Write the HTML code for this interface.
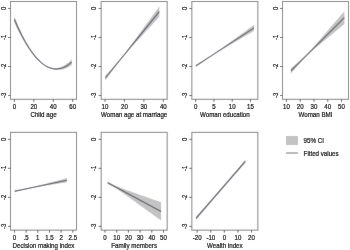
<!DOCTYPE html>
<html><head><meta charset="utf-8"><style>
html,body{margin:0;padding:0;background:#fff;}
svg{display:block;will-change:transform;font-family:"Liberation Sans",sans-serif;}
</style></head><body>
<svg width="350" height="250" viewBox="0 0 350 250">
<defs><filter id="bl" x="0" y="0" width="100%" height="100%" filterUnits="userSpaceOnUse" primitiveUnits="userSpaceOnUse"><feConvolveMatrix order="3" kernelMatrix="0.00524 0.06192 0.00524 0.06192 0.73137 0.06192 0.00524 0.06192 0.00524" edgeMode="duplicate" preserveAlpha="true"/></filter><filter id="bl2" x="0" y="0" width="100%" height="100%" filterUnits="userSpaceOnUse" primitiveUnits="userSpaceOnUse"><feConvolveMatrix order="3" kernelMatrix="0.00027 0.01580 0.00027 0.01580 0.93575 0.01580 0.00027 0.01580 0.00027" edgeMode="none" preserveAlpha="false"/></filter></defs>
<rect width="350" height="250" fill="#fff"/>
<g filter="url(#bl)">
<rect width="350" height="250" fill="#fff"/>
<rect x="10.50" y="1.50" width="66" height="97.8" fill="none" stroke="#808080" stroke-width="1.0"/>
<polygon points="14.30,16.04 15.74,19.69 17.18,23.20 18.61,26.58 20.05,29.82 21.49,32.94 22.93,35.92 24.36,38.77 25.80,41.48 27.24,44.07 28.68,46.52 30.11,48.84 31.55,51.02 32.99,53.08 34.42,55.00 35.86,56.79 37.30,58.44 38.74,59.97 40.17,61.36 41.61,62.62 43.05,63.74 44.49,64.74 45.92,65.61 47.36,66.35 48.80,66.97 50.24,67.45 51.67,67.81 53.11,68.04 54.55,68.13 55.99,68.11 57.42,67.95 58.86,67.66 60.30,67.25 61.74,66.71 63.17,66.04 64.61,65.24 66.05,64.31 67.49,63.25 68.92,62.07 70.36,60.76 71.80,59.32 71.80,64.99 70.36,65.96 68.92,66.83 67.49,67.59 66.05,68.25 64.61,68.80 63.17,69.25 61.74,69.59 60.30,69.82 58.86,69.96 57.42,69.98 55.99,69.90 54.55,69.72 53.11,69.43 51.67,69.03 50.24,68.53 48.80,67.92 47.36,67.21 45.92,66.40 44.49,65.48 43.05,64.45 41.61,63.32 40.17,62.08 38.74,60.75 37.30,59.31 35.86,57.77 34.42,56.13 32.99,54.39 31.55,52.55 30.11,50.61 28.68,48.57 27.24,46.42 25.80,44.18 24.36,41.83 22.93,39.38 21.49,36.83 20.05,34.18 18.61,31.43 17.18,28.58 15.74,25.63 14.30,22.57" fill="#c3c3c3"/><path d="M14.3 19.31 Q43.05 87.46 71.8 62.15" fill="none" stroke="#585b6c" stroke-width="1.1"/>
<line x1="8.00" y1="8.50" x2="10.50" y2="8.50" stroke="#5a5a5a" stroke-width="1"/>

<line x1="8.00" y1="37.50" x2="10.50" y2="37.50" stroke="#5a5a5a" stroke-width="1"/>

<line x1="8.00" y1="66.50" x2="10.50" y2="66.50" stroke="#5a5a5a" stroke-width="1"/>

<line x1="8.00" y1="95.50" x2="10.50" y2="95.50" stroke="#5a5a5a" stroke-width="1"/>

<line x1="14.45" y1="99.30" x2="14.45" y2="101.80" stroke="#5a5a5a" stroke-width="1"/>

<line x1="33.85" y1="99.30" x2="33.85" y2="101.80" stroke="#5a5a5a" stroke-width="1"/>

<line x1="53.25" y1="99.30" x2="53.25" y2="101.80" stroke="#5a5a5a" stroke-width="1"/>

<line x1="72.65" y1="99.30" x2="72.65" y2="101.80" stroke="#5a5a5a" stroke-width="1"/>


<rect x="101.17" y="1.50" width="66" height="97.8" fill="none" stroke="#808080" stroke-width="1.0"/>
<polygon points="105.30,75.63 106.65,74.15 108.00,72.68 109.35,71.20 110.70,69.73 112.05,68.25 113.40,66.77 114.75,65.29 116.10,63.80 117.45,62.31 118.80,60.80 120.15,59.26 121.50,57.67 122.85,56.00 124.20,54.26 125.55,52.46 126.90,50.65 128.25,48.82 129.60,46.98 130.95,45.14 132.30,43.30 133.65,41.46 135.00,39.62 136.35,37.77 137.70,35.93 139.05,34.08 140.40,32.23 141.75,30.39 143.10,28.54 144.45,26.69 145.80,24.84 147.15,23.00 148.50,21.15 149.85,19.30 151.20,17.45 152.55,15.60 153.90,13.76 155.25,11.91 156.60,10.06 157.95,8.21 159.30,6.36 159.30,16.84 157.95,18.31 156.60,19.78 155.25,21.25 153.90,22.72 152.55,24.20 151.20,25.67 149.85,27.14 148.50,28.61 147.15,30.08 145.80,31.56 144.45,33.03 143.10,34.50 141.75,35.97 140.40,37.45 139.05,38.92 137.70,40.39 136.35,41.87 135.00,43.34 133.65,44.82 132.30,46.30 130.95,47.78 129.60,49.26 128.25,50.74 126.90,52.23 125.55,53.74 124.20,55.26 122.85,56.84 121.50,58.49 120.15,60.22 118.80,62.00 117.45,63.81 116.10,65.64 114.75,67.47 113.40,69.31 112.05,71.15 110.70,72.99 109.35,74.84 108.00,76.68 106.65,78.53 105.30,80.37" fill="#c3c3c3"/><line x1="105.3" y1="78.0" x2="159.3" y2="11.6" stroke="#585b6c" stroke-width="1.1"/>
<line x1="98.67" y1="8.50" x2="101.17" y2="8.50" stroke="#5a5a5a" stroke-width="1"/>

<line x1="98.67" y1="37.50" x2="101.17" y2="37.50" stroke="#5a5a5a" stroke-width="1"/>

<line x1="98.67" y1="66.50" x2="101.17" y2="66.50" stroke="#5a5a5a" stroke-width="1"/>

<line x1="98.67" y1="95.50" x2="101.17" y2="95.50" stroke="#5a5a5a" stroke-width="1"/>

<line x1="105.00" y1="99.30" x2="105.00" y2="101.80" stroke="#5a5a5a" stroke-width="1"/>

<line x1="124.43" y1="99.30" x2="124.43" y2="101.80" stroke="#5a5a5a" stroke-width="1"/>

<line x1="143.87" y1="99.30" x2="143.87" y2="101.80" stroke="#5a5a5a" stroke-width="1"/>

<line x1="163.30" y1="99.30" x2="163.30" y2="101.80" stroke="#5a5a5a" stroke-width="1"/>


<rect x="191.84" y="1.50" width="66" height="97.8" fill="none" stroke="#808080" stroke-width="1.0"/>
<polygon points="195.90,64.70 197.35,63.85 198.81,63.00 200.26,62.15 201.71,61.30 203.16,60.45 204.62,59.59 206.07,58.73 207.52,57.86 208.97,56.98 210.43,56.08 211.88,55.15 213.33,54.19 214.78,53.19 216.24,52.17 217.69,51.14 219.14,50.10 220.59,49.06 222.05,48.02 223.50,46.97 224.95,45.92 226.40,44.87 227.85,43.82 229.31,42.77 230.76,41.72 232.21,40.66 233.67,39.61 235.12,38.56 236.57,37.51 238.02,36.45 239.47,35.40 240.93,34.35 242.38,33.29 243.83,32.24 245.28,31.18 246.74,30.13 248.19,29.08 249.64,28.02 251.09,26.97 252.55,25.92 254.00,24.86 254.00,30.94 252.55,31.78 251.09,32.63 249.64,33.48 248.19,34.32 246.74,35.17 245.28,36.02 243.83,36.86 242.38,37.71 240.93,38.55 239.47,39.40 238.02,40.25 236.57,41.09 235.12,41.94 233.67,42.79 232.21,43.64 230.76,44.48 229.31,45.33 227.85,46.18 226.40,47.03 224.95,47.88 223.50,48.73 222.05,49.58 220.59,50.44 219.14,51.30 217.69,52.16 216.24,53.03 214.78,53.91 213.33,54.81 211.88,55.75 210.43,56.72 208.97,57.72 207.52,58.74 206.07,59.77 204.62,60.81 203.16,61.85 201.71,62.90 200.26,63.95 198.81,65.00 197.35,66.05 195.90,67.10" fill="#c3c3c3"/><line x1="195.9" y1="65.9" x2="254.0" y2="27.9" stroke="#585b6c" stroke-width="1.1"/>
<line x1="189.34" y1="8.50" x2="191.84" y2="8.50" stroke="#5a5a5a" stroke-width="1"/>

<line x1="189.34" y1="37.50" x2="191.84" y2="37.50" stroke="#5a5a5a" stroke-width="1"/>

<line x1="189.34" y1="66.50" x2="191.84" y2="66.50" stroke="#5a5a5a" stroke-width="1"/>

<line x1="189.34" y1="95.50" x2="191.84" y2="95.50" stroke="#5a5a5a" stroke-width="1"/>

<line x1="195.65" y1="99.30" x2="195.65" y2="101.80" stroke="#5a5a5a" stroke-width="1"/>

<line x1="213.93" y1="99.30" x2="213.93" y2="101.80" stroke="#5a5a5a" stroke-width="1"/>

<line x1="232.22" y1="99.30" x2="232.22" y2="101.80" stroke="#5a5a5a" stroke-width="1"/>

<line x1="250.50" y1="99.30" x2="250.50" y2="101.80" stroke="#5a5a5a" stroke-width="1"/>


<rect x="282.51" y="1.50" width="66" height="97.8" fill="none" stroke="#808080" stroke-width="1.0"/>
<polygon points="290.90,68.20 292.24,67.09 293.57,65.98 294.91,64.87 296.25,63.76 297.59,62.64 298.92,61.52 300.26,60.40 301.60,59.27 302.94,58.12 304.27,56.95 305.61,55.72 306.95,54.40 308.29,52.99 309.62,51.52 310.96,50.00 312.30,48.47 313.64,46.94 314.97,45.39 316.31,43.84 317.65,42.29 318.99,40.74 320.32,39.18 321.66,37.63 323.00,36.07 324.34,34.51 325.67,32.96 327.01,31.40 328.35,29.84 329.69,28.28 331.02,26.73 332.36,25.17 333.70,23.61 335.04,22.05 336.38,20.49 337.71,18.93 339.05,17.37 340.39,15.81 341.72,14.26 343.06,12.70 344.40,11.14 344.40,24.06 343.06,25.17 341.72,26.27 340.39,27.38 339.05,28.49 337.71,29.59 336.38,30.70 335.04,31.80 333.70,32.91 332.36,34.02 331.02,35.12 329.69,36.23 328.35,37.34 327.01,38.45 325.67,39.55 324.34,40.66 323.00,41.77 321.66,42.88 320.32,43.99 318.99,45.10 317.65,46.21 316.31,47.32 314.97,48.44 313.64,49.56 312.30,50.69 310.96,51.82 309.62,52.97 308.29,54.16 306.95,55.42 305.61,56.76 304.27,58.20 302.94,59.69 301.60,61.21 300.26,62.74 298.92,64.29 297.59,65.83 296.25,67.38 294.91,68.93 293.57,70.49 292.24,72.04 290.90,73.60" fill="#c3c3c3"/><line x1="290.9" y1="70.9" x2="344.4" y2="17.6" stroke="#585b6c" stroke-width="1.1"/>
<line x1="280.01" y1="8.50" x2="282.51" y2="8.50" stroke="#5a5a5a" stroke-width="1"/>

<line x1="280.01" y1="37.50" x2="282.51" y2="37.50" stroke="#5a5a5a" stroke-width="1"/>

<line x1="280.01" y1="66.50" x2="282.51" y2="66.50" stroke="#5a5a5a" stroke-width="1"/>

<line x1="280.01" y1="95.50" x2="282.51" y2="95.50" stroke="#5a5a5a" stroke-width="1"/>

<line x1="286.50" y1="99.30" x2="286.50" y2="101.80" stroke="#5a5a5a" stroke-width="1"/>

<line x1="300.25" y1="99.30" x2="300.25" y2="101.80" stroke="#5a5a5a" stroke-width="1"/>

<line x1="314.00" y1="99.30" x2="314.00" y2="101.80" stroke="#5a5a5a" stroke-width="1"/>

<line x1="327.75" y1="99.30" x2="327.75" y2="101.80" stroke="#5a5a5a" stroke-width="1"/>

<line x1="341.50" y1="99.30" x2="341.50" y2="101.80" stroke="#5a5a5a" stroke-width="1"/>


<rect x="10.50" y="132.35" width="66" height="97.8" fill="none" stroke="#808080" stroke-width="1.0"/>
<polygon points="14.70,190.27 16.00,190.07 17.31,189.86 18.61,189.65 19.92,189.44 21.23,189.22 22.53,189.00 23.84,188.78 25.14,188.56 26.45,188.32 27.75,188.08 29.05,187.82 30.36,187.55 31.66,187.26 32.97,186.96 34.27,186.65 35.58,186.33 36.89,186.00 38.19,185.67 39.50,185.34 40.80,185.00 42.11,184.66 43.41,184.32 44.72,183.98 46.02,183.64 47.33,183.29 48.63,182.95 49.94,182.61 51.24,182.26 52.55,181.91 53.85,181.57 55.16,181.22 56.46,180.88 57.77,180.53 59.07,180.18 60.38,179.84 61.68,179.49 62.98,179.14 64.29,178.80 65.59,178.45 66.90,178.10 66.90,182.30 65.59,182.50 64.29,182.70 62.98,182.91 61.68,183.11 60.38,183.31 59.07,183.52 57.77,183.72 56.46,183.92 55.16,184.13 53.85,184.33 52.55,184.54 51.24,184.74 49.94,184.94 48.63,185.15 47.33,185.36 46.02,185.56 44.72,185.77 43.41,185.98 42.11,186.19 40.80,186.40 39.50,186.61 38.19,186.83 36.89,187.05 35.58,187.27 34.27,187.50 32.97,187.74 31.66,187.99 30.36,188.25 29.05,188.53 27.75,188.82 26.45,189.13 25.14,189.44 23.84,189.77 22.53,190.10 21.23,190.43 19.92,190.76 18.61,191.10 17.31,191.44 16.00,191.78 14.70,192.13" fill="#c3c3c3"/><line x1="14.7" y1="191.2" x2="66.9" y2="180.2" stroke="#585b6c" stroke-width="1.1"/>
<line x1="8.00" y1="139.35" x2="10.50" y2="139.35" stroke="#5a5a5a" stroke-width="1"/>

<line x1="8.00" y1="168.35" x2="10.50" y2="168.35" stroke="#5a5a5a" stroke-width="1"/>

<line x1="8.00" y1="197.35" x2="10.50" y2="197.35" stroke="#5a5a5a" stroke-width="1"/>

<line x1="8.00" y1="226.35" x2="10.50" y2="226.35" stroke="#5a5a5a" stroke-width="1"/>

<line x1="14.50" y1="230.15" x2="14.50" y2="232.65" stroke="#5a5a5a" stroke-width="1"/>

<line x1="26.16" y1="230.15" x2="26.16" y2="232.65" stroke="#5a5a5a" stroke-width="1"/>

<line x1="37.82" y1="230.15" x2="37.82" y2="232.65" stroke="#5a5a5a" stroke-width="1"/>

<line x1="49.48" y1="230.15" x2="49.48" y2="232.65" stroke="#5a5a5a" stroke-width="1"/>

<line x1="61.14" y1="230.15" x2="61.14" y2="232.65" stroke="#5a5a5a" stroke-width="1"/>

<line x1="72.80" y1="230.15" x2="72.80" y2="232.65" stroke="#5a5a5a" stroke-width="1"/>


<rect x="101.17" y="132.35" width="66" height="97.8" fill="none" stroke="#808080" stroke-width="1.0"/>
<polygon points="107.70,181.42 109.03,182.28 110.37,183.09 111.70,183.85 113.04,184.55 114.38,185.20 115.71,185.79 117.05,186.35 118.38,186.89 119.72,187.41 121.05,187.92 122.39,188.43 123.72,188.92 125.06,189.41 126.39,189.90 127.72,190.39 129.06,190.87 130.40,191.35 131.73,191.83 133.06,192.31 134.40,192.79 135.74,193.26 137.07,193.74 138.41,194.22 139.74,194.69 141.07,195.17 142.41,195.64 143.75,196.12 145.08,196.59 146.41,197.06 147.75,197.54 149.08,198.01 150.42,198.48 151.75,198.96 153.09,199.43 154.43,199.90 155.76,200.37 157.09,200.85 158.43,201.32 159.76,201.79 161.10,202.26 161.10,220.54 159.76,219.58 158.43,218.61 157.09,217.65 155.76,216.69 154.43,215.72 153.09,214.76 151.75,213.80 150.42,212.84 149.08,211.88 147.75,210.91 146.41,209.95 145.08,208.99 143.75,208.03 142.41,207.07 141.07,206.11 139.74,205.15 138.41,204.19 137.07,203.23 135.74,202.27 134.40,201.31 133.06,200.36 131.73,199.40 130.40,198.44 129.06,197.49 127.72,196.54 126.39,195.59 125.06,194.64 123.72,193.70 122.39,192.76 121.05,191.83 119.72,190.90 118.38,189.99 117.05,189.09 115.71,188.22 114.38,187.38 113.04,186.59 111.70,185.85 110.37,185.18 109.03,184.56 107.70,183.98" fill="#c3c3c3"/><line x1="107.7" y1="182.7" x2="161.1" y2="211.4" stroke="#585b6c" stroke-width="1.1"/>
<line x1="98.67" y1="139.35" x2="101.17" y2="139.35" stroke="#5a5a5a" stroke-width="1"/>

<line x1="98.67" y1="168.35" x2="101.17" y2="168.35" stroke="#5a5a5a" stroke-width="1"/>

<line x1="98.67" y1="197.35" x2="101.17" y2="197.35" stroke="#5a5a5a" stroke-width="1"/>

<line x1="98.67" y1="226.35" x2="101.17" y2="226.35" stroke="#5a5a5a" stroke-width="1"/>

<line x1="105.00" y1="230.15" x2="105.00" y2="232.65" stroke="#5a5a5a" stroke-width="1"/>

<line x1="116.70" y1="230.15" x2="116.70" y2="232.65" stroke="#5a5a5a" stroke-width="1"/>

<line x1="128.40" y1="230.15" x2="128.40" y2="232.65" stroke="#5a5a5a" stroke-width="1"/>

<line x1="140.10" y1="230.15" x2="140.10" y2="232.65" stroke="#5a5a5a" stroke-width="1"/>

<line x1="151.80" y1="230.15" x2="151.80" y2="232.65" stroke="#5a5a5a" stroke-width="1"/>

<line x1="163.50" y1="230.15" x2="163.50" y2="232.65" stroke="#5a5a5a" stroke-width="1"/>


<rect x="191.84" y="132.35" width="66" height="97.8" fill="none" stroke="#808080" stroke-width="1.0"/>
<polygon points="196.00,216.74 197.23,215.35 198.47,213.95 199.70,212.56 200.93,211.17 202.16,209.77 203.40,208.37 204.63,206.98 205.86,205.58 207.09,204.17 208.32,202.77 209.56,201.37 210.79,199.96 212.02,198.55 213.25,197.15 214.49,195.73 215.72,194.32 216.95,192.91 218.19,191.49 219.42,190.07 220.65,188.65 221.88,187.23 223.12,185.80 224.35,184.38 225.58,182.95 226.81,181.52 228.05,180.08 229.28,178.65 230.51,177.21 231.74,175.77 232.98,174.33 234.21,172.89 235.44,171.45 236.67,170.00 237.91,168.56 239.14,167.11 240.37,165.66 241.60,164.21 242.84,162.76 244.07,161.31 245.30,159.86 245.30,162.94 244.07,164.34 242.84,165.73 241.60,167.12 240.37,168.52 239.14,169.91 237.91,171.31 236.67,172.71 235.44,174.11 234.21,175.51 232.98,176.92 231.74,178.32 230.51,179.73 229.28,181.14 228.05,182.55 226.81,183.96 225.58,185.37 224.35,186.79 223.12,188.21 221.88,189.63 220.65,191.05 219.42,192.47 218.19,193.90 216.95,195.33 215.72,196.76 214.49,198.19 213.25,199.62 212.02,201.06 210.79,202.50 209.56,203.94 208.32,205.38 207.09,206.82 205.86,208.26 204.63,209.71 203.40,211.16 202.16,212.60 200.93,214.05 199.70,215.50 198.47,216.96 197.23,218.41 196.00,219.86" fill="#c3c3c3"/><line x1="196.0" y1="218.3" x2="245.3" y2="161.4" stroke="#585b6c" stroke-width="1.1"/>
<line x1="189.34" y1="139.35" x2="191.84" y2="139.35" stroke="#5a5a5a" stroke-width="1"/>

<line x1="189.34" y1="168.35" x2="191.84" y2="168.35" stroke="#5a5a5a" stroke-width="1"/>

<line x1="189.34" y1="197.35" x2="191.84" y2="197.35" stroke="#5a5a5a" stroke-width="1"/>

<line x1="189.34" y1="226.35" x2="191.84" y2="226.35" stroke="#5a5a5a" stroke-width="1"/>

<line x1="197.20" y1="230.15" x2="197.20" y2="232.65" stroke="#5a5a5a" stroke-width="1"/>

<line x1="210.77" y1="230.15" x2="210.77" y2="232.65" stroke="#5a5a5a" stroke-width="1"/>

<line x1="224.35" y1="230.15" x2="224.35" y2="232.65" stroke="#5a5a5a" stroke-width="1"/>

<line x1="237.93" y1="230.15" x2="237.93" y2="232.65" stroke="#5a5a5a" stroke-width="1"/>

<line x1="251.50" y1="230.15" x2="251.50" y2="232.65" stroke="#5a5a5a" stroke-width="1"/>


<rect x="286" y="136" width="12" height="9" fill="#c3c3c3"/><line x1="286" y1="153" x2="298" y2="153" stroke="#8c90a4" stroke-width="1.3"/>
</g>
<g filter="url(#bl2)">
<text transform="translate(5.60 8.40) rotate(-90) scale(0.85 0.93)" text-anchor="middle" font-size="7.0" fill="#111" stroke="#111" stroke-width="0.2">0</text>
<text transform="translate(5.60 37.40) rotate(-90) scale(0.85 0.93)" text-anchor="middle" font-size="7.0" fill="#111" stroke="#111" stroke-width="0.2">-1</text>
<text transform="translate(5.60 66.40) rotate(-90) scale(0.85 0.93)" text-anchor="middle" font-size="7.0" fill="#111" stroke="#111" stroke-width="0.2">-2</text>
<text transform="translate(5.60 95.40) rotate(-90) scale(0.85 0.93)" text-anchor="middle" font-size="7.0" fill="#111" stroke="#111" stroke-width="0.2">-3</text>
<text transform="translate(14.45 109.20) scale(0.87 1.0)" text-anchor="middle" font-size="7.0" fill="#111" stroke="#111" stroke-width="0.2">0</text>
<text transform="translate(33.85 109.20) scale(0.87 1.0)" text-anchor="middle" font-size="7.0" fill="#111" stroke="#111" stroke-width="0.2">20</text>
<text transform="translate(53.25 109.20) scale(0.87 1.0)" text-anchor="middle" font-size="7.0" fill="#111" stroke="#111" stroke-width="0.2">40</text>
<text transform="translate(72.65 109.20) scale(0.87 1.0)" text-anchor="middle" font-size="7.0" fill="#111" stroke="#111" stroke-width="0.2">60</text>
<text transform="translate(43.50 116.70) scale(0.885 1.0)" text-anchor="middle" font-size="7.0" fill="#111" stroke="#111" stroke-width="0.2">Child age</text>
<text transform="translate(96.27 8.40) rotate(-90) scale(0.85 0.93)" text-anchor="middle" font-size="7.0" fill="#111" stroke="#111" stroke-width="0.2">0</text>
<text transform="translate(96.27 37.40) rotate(-90) scale(0.85 0.93)" text-anchor="middle" font-size="7.0" fill="#111" stroke="#111" stroke-width="0.2">-1</text>
<text transform="translate(96.27 66.40) rotate(-90) scale(0.85 0.93)" text-anchor="middle" font-size="7.0" fill="#111" stroke="#111" stroke-width="0.2">-2</text>
<text transform="translate(96.27 95.40) rotate(-90) scale(0.85 0.93)" text-anchor="middle" font-size="7.0" fill="#111" stroke="#111" stroke-width="0.2">-3</text>
<text transform="translate(105.00 109.20) scale(0.87 1.0)" text-anchor="middle" font-size="7.0" fill="#111" stroke="#111" stroke-width="0.2">10</text>
<text transform="translate(124.43 109.20) scale(0.87 1.0)" text-anchor="middle" font-size="7.0" fill="#111" stroke="#111" stroke-width="0.2">20</text>
<text transform="translate(143.87 109.20) scale(0.87 1.0)" text-anchor="middle" font-size="7.0" fill="#111" stroke="#111" stroke-width="0.2">30</text>
<text transform="translate(163.30 109.20) scale(0.87 1.0)" text-anchor="middle" font-size="7.0" fill="#111" stroke="#111" stroke-width="0.2">40</text>
<text transform="translate(134.17 116.70) scale(0.885 1.0)" text-anchor="middle" font-size="7.0" fill="#111" stroke="#111" stroke-width="0.2">Woman age at marriage</text>
<text transform="translate(186.94 8.40) rotate(-90) scale(0.85 0.93)" text-anchor="middle" font-size="7.0" fill="#111" stroke="#111" stroke-width="0.2">0</text>
<text transform="translate(186.94 37.40) rotate(-90) scale(0.85 0.93)" text-anchor="middle" font-size="7.0" fill="#111" stroke="#111" stroke-width="0.2">-1</text>
<text transform="translate(186.94 66.40) rotate(-90) scale(0.85 0.93)" text-anchor="middle" font-size="7.0" fill="#111" stroke="#111" stroke-width="0.2">-2</text>
<text transform="translate(186.94 95.40) rotate(-90) scale(0.85 0.93)" text-anchor="middle" font-size="7.0" fill="#111" stroke="#111" stroke-width="0.2">-3</text>
<text transform="translate(195.65 109.20) scale(0.87 1.0)" text-anchor="middle" font-size="7.0" fill="#111" stroke="#111" stroke-width="0.2">0</text>
<text transform="translate(213.93 109.20) scale(0.87 1.0)" text-anchor="middle" font-size="7.0" fill="#111" stroke="#111" stroke-width="0.2">5</text>
<text transform="translate(232.22 109.20) scale(0.87 1.0)" text-anchor="middle" font-size="7.0" fill="#111" stroke="#111" stroke-width="0.2">10</text>
<text transform="translate(250.50 109.20) scale(0.87 1.0)" text-anchor="middle" font-size="7.0" fill="#111" stroke="#111" stroke-width="0.2">15</text>
<text transform="translate(224.84 116.70) scale(0.885 1.0)" text-anchor="middle" font-size="7.0" fill="#111" stroke="#111" stroke-width="0.2">Woman education</text>
<text transform="translate(277.61 8.40) rotate(-90) scale(0.85 0.93)" text-anchor="middle" font-size="7.0" fill="#111" stroke="#111" stroke-width="0.2">0</text>
<text transform="translate(277.61 37.40) rotate(-90) scale(0.85 0.93)" text-anchor="middle" font-size="7.0" fill="#111" stroke="#111" stroke-width="0.2">-1</text>
<text transform="translate(277.61 66.40) rotate(-90) scale(0.85 0.93)" text-anchor="middle" font-size="7.0" fill="#111" stroke="#111" stroke-width="0.2">-2</text>
<text transform="translate(277.61 95.40) rotate(-90) scale(0.85 0.93)" text-anchor="middle" font-size="7.0" fill="#111" stroke="#111" stroke-width="0.2">-3</text>
<text transform="translate(286.50 109.20) scale(0.87 1.0)" text-anchor="middle" font-size="7.0" fill="#111" stroke="#111" stroke-width="0.2">10</text>
<text transform="translate(300.25 109.20) scale(0.87 1.0)" text-anchor="middle" font-size="7.0" fill="#111" stroke="#111" stroke-width="0.2">20</text>
<text transform="translate(314.00 109.20) scale(0.87 1.0)" text-anchor="middle" font-size="7.0" fill="#111" stroke="#111" stroke-width="0.2">30</text>
<text transform="translate(327.75 109.20) scale(0.87 1.0)" text-anchor="middle" font-size="7.0" fill="#111" stroke="#111" stroke-width="0.2">40</text>
<text transform="translate(341.50 109.20) scale(0.87 1.0)" text-anchor="middle" font-size="7.0" fill="#111" stroke="#111" stroke-width="0.2">50</text>
<text transform="translate(315.51 116.70) scale(0.885 1.0)" text-anchor="middle" font-size="7.0" fill="#111" stroke="#111" stroke-width="0.2">Woman BMI</text>
<text transform="translate(5.60 139.25) rotate(-90) scale(0.85 0.93)" text-anchor="middle" font-size="7.0" fill="#111" stroke="#111" stroke-width="0.2">0</text>
<text transform="translate(5.60 168.25) rotate(-90) scale(0.85 0.93)" text-anchor="middle" font-size="7.0" fill="#111" stroke="#111" stroke-width="0.2">-1</text>
<text transform="translate(5.60 197.25) rotate(-90) scale(0.85 0.93)" text-anchor="middle" font-size="7.0" fill="#111" stroke="#111" stroke-width="0.2">-2</text>
<text transform="translate(5.60 226.25) rotate(-90) scale(0.85 0.93)" text-anchor="middle" font-size="7.0" fill="#111" stroke="#111" stroke-width="0.2">-3</text>
<text transform="translate(14.50 240.05) scale(0.87 1.0)" text-anchor="middle" font-size="7.0" fill="#111" stroke="#111" stroke-width="0.2">0</text>
<text transform="translate(26.16 240.05) scale(0.87 1.0)" text-anchor="middle" font-size="7.0" fill="#111" stroke="#111" stroke-width="0.2">.5</text>
<text transform="translate(37.82 240.05) scale(0.87 1.0)" text-anchor="middle" font-size="7.0" fill="#111" stroke="#111" stroke-width="0.2">1</text>
<text transform="translate(49.48 240.05) scale(0.87 1.0)" text-anchor="middle" font-size="7.0" fill="#111" stroke="#111" stroke-width="0.2">1.5</text>
<text transform="translate(61.14 240.05) scale(0.87 1.0)" text-anchor="middle" font-size="7.0" fill="#111" stroke="#111" stroke-width="0.2">2</text>
<text transform="translate(72.80 240.05) scale(0.87 1.0)" text-anchor="middle" font-size="7.0" fill="#111" stroke="#111" stroke-width="0.2">2.5</text>
<text transform="translate(43.50 247.55) scale(0.885 1.0)" text-anchor="middle" font-size="7.0" fill="#111" stroke="#111" stroke-width="0.2">Decision making index</text>
<text transform="translate(96.27 139.25) rotate(-90) scale(0.85 0.93)" text-anchor="middle" font-size="7.0" fill="#111" stroke="#111" stroke-width="0.2">0</text>
<text transform="translate(96.27 168.25) rotate(-90) scale(0.85 0.93)" text-anchor="middle" font-size="7.0" fill="#111" stroke="#111" stroke-width="0.2">-1</text>
<text transform="translate(96.27 197.25) rotate(-90) scale(0.85 0.93)" text-anchor="middle" font-size="7.0" fill="#111" stroke="#111" stroke-width="0.2">-2</text>
<text transform="translate(96.27 226.25) rotate(-90) scale(0.85 0.93)" text-anchor="middle" font-size="7.0" fill="#111" stroke="#111" stroke-width="0.2">-3</text>
<text transform="translate(105.00 240.05) scale(0.87 1.0)" text-anchor="middle" font-size="7.0" fill="#111" stroke="#111" stroke-width="0.2">0</text>
<text transform="translate(116.70 240.05) scale(0.87 1.0)" text-anchor="middle" font-size="7.0" fill="#111" stroke="#111" stroke-width="0.2">10</text>
<text transform="translate(128.40 240.05) scale(0.87 1.0)" text-anchor="middle" font-size="7.0" fill="#111" stroke="#111" stroke-width="0.2">20</text>
<text transform="translate(140.10 240.05) scale(0.87 1.0)" text-anchor="middle" font-size="7.0" fill="#111" stroke="#111" stroke-width="0.2">30</text>
<text transform="translate(151.80 240.05) scale(0.87 1.0)" text-anchor="middle" font-size="7.0" fill="#111" stroke="#111" stroke-width="0.2">40</text>
<text transform="translate(163.50 240.05) scale(0.87 1.0)" text-anchor="middle" font-size="7.0" fill="#111" stroke="#111" stroke-width="0.2">50</text>
<text transform="translate(134.17 247.55) scale(0.885 1.0)" text-anchor="middle" font-size="7.0" fill="#111" stroke="#111" stroke-width="0.2">Family members</text>
<text transform="translate(186.94 139.25) rotate(-90) scale(0.85 0.93)" text-anchor="middle" font-size="7.0" fill="#111" stroke="#111" stroke-width="0.2">0</text>
<text transform="translate(186.94 168.25) rotate(-90) scale(0.85 0.93)" text-anchor="middle" font-size="7.0" fill="#111" stroke="#111" stroke-width="0.2">-1</text>
<text transform="translate(186.94 197.25) rotate(-90) scale(0.85 0.93)" text-anchor="middle" font-size="7.0" fill="#111" stroke="#111" stroke-width="0.2">-2</text>
<text transform="translate(186.94 226.25) rotate(-90) scale(0.85 0.93)" text-anchor="middle" font-size="7.0" fill="#111" stroke="#111" stroke-width="0.2">-3</text>
<text transform="translate(197.20 240.05) scale(0.87 1.0)" text-anchor="middle" font-size="7.0" fill="#111" stroke="#111" stroke-width="0.2">-20</text>
<text transform="translate(210.77 240.05) scale(0.87 1.0)" text-anchor="middle" font-size="7.0" fill="#111" stroke="#111" stroke-width="0.2">-10</text>
<text transform="translate(224.35 240.05) scale(0.87 1.0)" text-anchor="middle" font-size="7.0" fill="#111" stroke="#111" stroke-width="0.2">0</text>
<text transform="translate(237.93 240.05) scale(0.87 1.0)" text-anchor="middle" font-size="7.0" fill="#111" stroke="#111" stroke-width="0.2">10</text>
<text transform="translate(251.50 240.05) scale(0.87 1.0)" text-anchor="middle" font-size="7.0" fill="#111" stroke="#111" stroke-width="0.2">20</text>
<text transform="translate(224.84 247.55) scale(0.885 1.0)" text-anchor="middle" font-size="7.0" fill="#111" stroke="#111" stroke-width="0.2">Wealth index</text>
<text transform="translate(303.60 143.00) scale(0.885 1.0)" text-anchor="start" font-size="7.0" fill="#111" stroke="#111" stroke-width="0.2">95% CI</text>
<text transform="translate(303.60 155.70) scale(0.885 1.0)" text-anchor="start" font-size="7.0" fill="#111" stroke="#111" stroke-width="0.2">Fitted values</text>
</g>
</svg>
</body></html>
